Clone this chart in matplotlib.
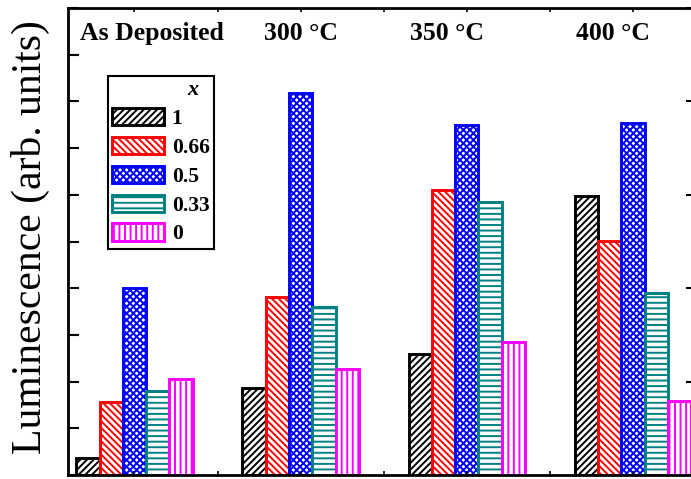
import numpy as np
import matplotlib.pyplot as plt
from matplotlib.ticker import MultipleLocator

plt.rcParams['font.family'] = ['Liberation Serif', 'DejaVu Serif']
plt.rcParams['hatch.linewidth'] = 1.4

# datos (unidades arbitrarias)
grupos = ['As Deposited', '300 °C', '350 °C', '400 °C']
series = ['1', '0.66', '0.5', '0.33', '0']
lum_1 = [0.36, 1.86, 2.59, 5.97]
lum_066 = [1.57, 3.82, 6.10, 5.01]
lum_05 = [4.00, 8.19, 7.49, 7.54]
lum_033 = [1.80, 3.60, 5.84, 3.89]
lum_0 = [2.05, 2.28, 2.85, 1.59]

valores = [lum_1, lum_066, lum_05, lum_033, lum_0]
colores = ['black', 'red', 'blue', 'teal', 'magenta']
tramas = ['/////', '\\\\\\\\\\', 'xxxxx', '---', '|||']

fig = plt.figure(figsize=(6.91, 4.79), dpi=100)
ax = fig.add_axes([68 / 691, 4 / 479, 629 / 691, 467 / 479])

x = np.arange(len(grupos))
ancho = 0.14
for k, (vals, c, h, lab) in enumerate(zip(valores, colores, tramas, series)):
    ax.bar(x + (k - 2) * ancho, vals, ancho, facecolor='white', edgecolor=c,
           hatch=h, linewidth=2.1, label=lab)

ax.set_xlim(-0.40, 3.385)
ax.set_ylim(0, 10)

# ticks hacia adentro, sin etiquetas
ax.xaxis.set_major_locator(MultipleLocator(0.5))
ax.yaxis.set_major_locator(MultipleLocator(2))
ax.yaxis.set_minor_locator(MultipleLocator(1))
ax.tick_params(which='both', direction='in', labelbottom=False, labelleft=False,
               top=True, bottom=True, left=True, right=True)
ax.tick_params(axis='x', length=3, width=1.2)
ax.tick_params(axis='y', which='major', length=8, width=1.5)
ax.tick_params(axis='y', which='minor', length=8, width=1.5, right=False)
for s in ax.spines.values():
    s.set_linewidth(2.0)

# etiquetas de grupo
pos_txt = [0.105, 1.0, 1.88, 2.88]
for px, g in zip(pos_txt, grupos):
    ax.text(px, 9.46, g, ha='center', va='center', fontsize=18.5, fontweight='bold')

fig.text(30 / 691, 0.505, 'Luminescence (arb. units)', rotation=90,
         ha='center', va='center', fontsize=30)

leg = ax.legend(loc='upper left', bbox_to_anchor=(0.0639, 0.854), borderaxespad=0,
                title='x  ', alignment='right', fancybox=False, edgecolor='black',
                framealpha=1, handlelength=2.4, handleheight=0.85,
                handletextpad=0.35, labelspacing=0.36, borderpad=0.2,
                prop={'size': 15.5, 'weight': 'bold'},
                title_fontproperties={'size': 16, 'weight': 'bold', 'style': 'italic'})
leg.get_frame().set_linewidth(1.5)

plt.savefig('out.png', dpi=100)
